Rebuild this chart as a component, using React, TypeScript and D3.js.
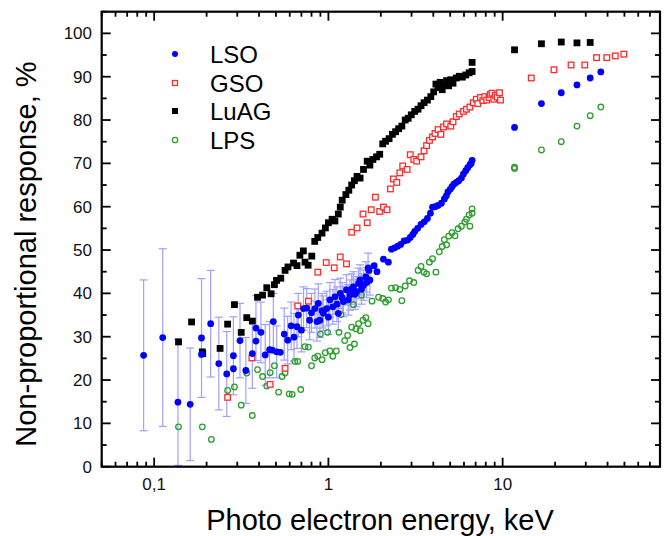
import React from "react";
import * as d3 from "d3";

// LSO (blue filled circles), with error bars at low energies
const lsoEnergy = [
  0.087, 0.112, 0.137, 0.161, 0.187, 0.187, 0.211, 0.235, 0.261, 0.285, 0.285, 0.311, 0.336,
  0.366, 0.384, 0.384, 0.41, 0.434, 0.46, 0.476, 0.483, 0.505, 0.53, 0.558, 0.584, 0.611,
  0.635, 0.66, 0.672, 0.7, 0.72, 0.751, 0.78, 0.8, 0.837, 0.86, 0.875, 0.894, 0.92, 0.935,
  0.978, 1.0, 1.02, 1.06, 1.09, 1.12, 1.14, 1.17, 1.2, 1.22, 1.27, 1.3, 1.33, 1.36, 1.39,
  1.42, 1.45, 1.49, 1.52, 1.55, 1.59, 1.64, 1.66, 1.69, 1.73, 1.71, 1.83, 1.9, 2.07, 2.21,
  2.3, 2.4, 2.5, 2.6, 2.72, 2.85, 2.95, 3.05, 3.13, 3.25, 3.4, 3.55, 3.7, 3.85, 3.96, 4.1,
  4.26, 4.45, 4.63, 4.75, 4.85, 5.0, 5.12, 5.25, 5.42, 5.6, 5.8, 5.95, 6.14, 6.3, 6.49, 6.6,
  6.68, 11.7, 16.7, 21.7, 26.7, 31.8, 36.6,
];
const lsoResponse = [
  25.7, 29.8, 14.9, 14.4, 29.7, 25.9, 33.0, 23.8, 21.4, 25.6, 22.6, 29.1, 22.2,
  26.1, 32.0, 29.0, 31.0, 25.8, 27.0, 26.9, 33.5, 26.5, 26.4, 30.6, 29.2, 32.5,
  29.9, 32.3, 35.0, 31.5, 36.5, 36.6, 33.8, 35.5, 36.5, 33.5, 37.7, 33.8, 36.0, 35.4,
  36.5, 34.5, 38.5, 36.9, 39.2, 37.5, 35.4, 40.0, 39.0, 38.1, 40.8, 38.5, 39.6, 41.0, 41.5,
  39.8, 40.4, 42.3, 43.1, 41.0, 41.9, 43.8, 42.5, 45.8, 43.1, 45.3, 46.4, 45.0, 47.9, 47.2,
  50.2, 50.5, 50.9, 51.3, 52.1, 52.3, 52.9, 53.6, 54.3, 55.0, 55.9, 56.5, 57.3, 58.5, 59.9, 60.0,
  60.3, 60.8, 61.8, 62.5, 63.4, 64.0, 64.6, 65.2, 65.6, 66.0, 66.6, 67.5, 68.3, 69.0, 69.7, 70.0,
  70.7, 78.3, 83.8, 86.3, 88.1, 89.7, 91.1,
];
const lsoError = [
  17.4, 20.5, 14.6, 13, 13.7, 0, 12.3, 10.7, 9.8, 9, 0, 8.6, 7.6,
  8, 7.5, 0, 7, 7, 6.5, 0, 6.5, 6, 0, 6, 5.5, 5.5,
  5.5, 5, 5, 5, 5, 4.5, 4.5, 4.5, 4.5, 4.5, 4.5, 4, 4, 4,
  4, 4, 4, 4, 4, 4, 4, 3.5, 3.5, 3.5, 3.5, 3.5, 3.5, 3.5, 3.5,
  3.5, 3.5, 3.5, 3.5, 3.5, 3.5, 3.5, 3.5, 3.5, 3.5,
];

// GSO (red open squares)
const gsoEnergy = [
  0.264, 0.364, 0.463, 0.564, 0.667, 0.768, 0.869, 0.972, 1.08, 1.17, 1.27, 1.36, 1.46, 1.58,
  1.67, 1.76, 1.86, 1.97, 2.07, 2.17, 2.27, 2.36, 2.47, 2.57, 2.67, 2.83, 2.95, 3.09, 3.21,
  3.4, 3.54, 3.66, 3.8, 3.96, 4.09, 4.26, 4.42, 4.58, 4.77, 5.04, 5.19, 5.42, 5.64, 5.96, 6.2,
  6.49, 6.79, 7.06, 7.2, 7.46, 7.7, 7.89, 8.1, 8.35, 8.5, 8.69, 8.9, 9.08, 9.3, 9.6, 9.72,
  14.6, 19.7, 24.7, 29.6, 34.6, 39.6, 44.3, 49.6,
];
const gsoResponse = [
  16.0, 25.1, 19.0, 22.7, 37.1, 38.2, 44.9, 47.1, 45.9, 48.4, 46.8, 54.1, 55.1, 58.3,
  56.3, 59.3, 62.2, 58.9, 59.9, 59.3, 64.1, 66.4, 65.6, 67.8, 69.4, 68.6, 72.0, 70.9, 70.5,
  71.5, 72.9, 74.1, 75.3, 76.1, 76.9, 77.8, 76.7, 78.4, 79.1, 78.6, 79.6, 80.8, 81.4, 82.0, 82.5,
  83.0, 84.0, 84.8, 83.8, 85.2, 84.5, 85.4, 84.6, 85.2, 85.9, 86.2, 84.8, 85.7, 85.3, 86.3, 84.6,
  89.7, 91.6, 92.7, 92.7, 94.4, 94.4, 94.8, 95.2,
];

// LuAG (black filled squares)
const luagEnergy = [
  0.138, 0.164, 0.189, 0.19, 0.239, 0.264, 0.289, 0.316, 0.34, 0.366, 0.392, 0.419, 0.443,
  0.469, 0.49, 0.504, 0.533, 0.564, 0.586, 0.631, 0.66, 0.686, 0.718, 0.734, 0.765, 0.803,
  0.835, 0.869, 0.919, 0.961, 1.0, 1.05, 1.09, 1.14, 1.17, 1.2, 1.26, 1.31, 1.36, 1.41, 1.46,
  1.52, 1.59, 1.67, 1.73, 1.8, 1.89, 1.97, 2.05, 2.13, 2.23, 2.33, 2.43, 2.53, 2.64, 2.76,
  2.87, 2.99, 3.13, 3.27, 3.4, 3.54, 3.7, 3.87, 4.02, 4.14, 4.26, 4.38, 4.5, 4.63, 4.77, 4.9,
  5.04, 5.19, 5.42, 5.64, 5.87, 6.14, 6.42, 6.68, 6.68, 11.7, 16.7, 21.7, 26.7, 31.8,
];
const luagResponse = [
  28.8, 33.4, 26.5, 26.1, 27.3, 32.9, 37.4, 31.0, 34.4, 33.6, 39.1, 39.6, 41.3,
  39.9, 42.0, 43.0, 43.5, 45.3, 46.1, 47.0, 46.4, 48.8, 49.8, 47.2, 46.5, 48.6,
  52.0, 52.9, 53.9, 55.1, 56.3, 57.1, 56.7, 58.3, 59.9, 61.5, 62.8, 63.8, 65.0, 66.0, 67.0,
  66.6, 68.6, 70.5, 69.6, 70.9, 71.5, 72.1, 74.5, 75.1, 75.7, 76.7, 77.3, 78.0, 78.6, 80.0,
  80.4, 81.2, 82.0, 82.5, 83.3, 84.0, 84.6, 85.4, 86.5, 88.3, 87.5, 88.7, 87.0, 88.1, 89.1, 87.9,
  89.3, 88.5, 89.7, 90.1, 89.9, 90.4, 90.9, 91.2, 93.3, 96.2, 97.6, 98.0, 97.8, 97.9,
];

// LPS (green open circles)
const lpsEnergy = [
  0.138, 0.189, 0.213, 0.264, 0.289, 0.316, 0.34, 0.366, 0.392, 0.419, 0.443, 0.463, 0.49,
  0.518, 0.542, 0.564, 0.596, 0.62, 0.642, 0.667, 0.694, 0.734, 0.768, 0.8, 0.835, 0.869,
  0.9, 0.92, 0.96, 0.99, 1.02, 1.06, 1.11, 1.15, 1.18, 1.24, 1.29, 1.33, 1.36, 1.39, 1.41,
  1.44, 1.49, 1.52, 1.55, 1.58, 1.64, 1.69, 1.78, 1.94, 2.05, 2.13, 2.21, 2.3, 2.43, 2.57,
  2.64, 2.76, 2.92, 3.09, 3.27, 3.4, 3.54, 3.66, 3.8, 3.96, 4.14, 4.33, 4.5, 4.63, 4.77,
  4.9, 5.12, 5.33, 5.55, 5.8, 6.07, 6.2, 6.42, 6.49, 6.68, 6.68, 11.7, 11.7, 16.7, 21.7,
  26.7, 31.8, 36.6,
];
const lpsResponse = [
  9.2, 9.2, 6.3, 17.6, 18.4, 14.2, 21.6, 11.8, 22.4, 20.8, 18.6, 21.7, 23.3,
  17.2, 20.8, 21.6, 16.8, 16.7, 24.3, 24.3, 17.8, 27.7, 27.6, 23.3, 25.1, 25.5,
  30.6, 24.7, 26.3, 31.0, 26.7, 25.5, 26.7, 31.0, 35.1, 29.1, 30.3, 27.5, 32.2, 37.4, 28.3,
  31.8, 33.0, 31.4, 39.6, 33.8, 34.4, 33.0, 38.2, 39.1, 38.8, 38.0, 38.5, 41.2, 41.3, 40.9,
  38.3, 41.7, 42.9, 42.5, 45.3, 46.2, 44.9, 44.5, 47.2, 48.0, 44.9, 49.6, 50.8, 52.4, 51.2,
  53.2, 54.0, 53.3, 54.9, 55.5, 56.5, 57.1, 58.1, 55.5, 59.5, 58.5, 69.1, 68.8, 73.1, 75.0,
  78.6, 81.0, 83.0,
];

const legendNames = ["LSO", "GSO", "LuAG", "LPS"];
const xTickLabels = ["0,1", "1", "10"];
const yTickValues = [0, 10, 20, 30, 40, 50, 60, 70, 80, 90, 100];

const W = 669;
const H = 536;
const L = 101.7, R = 660, T = 11.7, B = 466.7;
const FONT = "'Liberation Sans', Arial, sans-serif";

const BLUE = "#0000ff";
const RED = "#ff2a2a";
const GREEN = "#2e9e2e";
const ERR = "#a0a0ff";

export default function App() {
  const x = d3.scaleLog().domain([0.05, 80]).range([L, R]);
  const y = d3.scaleLinear().domain([0, 105]).range([B, T]);

  const xTicks = x.ticks().filter((v) => v >= 0.05 && v <= 80);
  const isMajorX = (v: number) => Math.abs(Math.log10(v) - Math.round(Math.log10(v))) < 1e-6;
  const yTicks = d3.range(0, 106, 5);

  const lso = lsoEnergy.map((e, i) => ({ e, r: lsoResponse[i], err: lsoError[i] || 0 }));
  const gso = gsoEnergy.map((e, i) => ({ e, r: gsoResponse[i] }));
  const luag = luagEnergy.map((e, i) => ({ e, r: luagResponse[i] }));
  const lps = lpsEnergy.map((e, i) => ({ e, r: lpsResponse[i] }));

  const legendY = [54, 83, 111, 140];
  const legendMarks = [
    <circle cx={175} cy={legendY[0]} r={3} fill={BLUE} />,
    <rect x={172.5} y={legendY[1] - 2.5} width={5} height={5} fill="none" stroke={RED} strokeWidth={1.3} />,
    <rect x={172} y={legendY[2] - 3} width={6} height={6} fill="#000" />,
    <circle cx={175} cy={legendY[3]} r={2.7} fill="none" stroke={GREEN} strokeWidth={1.3} />,
  ];

  return (
    <div style={{ position: "fixed", left: 0, top: 0, background: "#fff" }}>
      <svg width={W} height={H} style={{ display: "block" }}>
        <rect width={W} height={H} fill="#fff" />

        {/* error bars */}
        <g stroke={ERR} strokeWidth={1.2} fill="none">
          {lso.filter((d) => d.err > 0).map((d, i) => {
            const cx = x(d.e);
            const y1 = y(d.r + d.err);
            const y2 = y(Math.max(0, d.r - d.err));
            return (
              <g key={i}>
                <line x1={cx} x2={cx} y1={y1} y2={y2} />
                <line x1={cx - 4} x2={cx + 4} y1={y1} y2={y1} />
                {d.r - d.err > 0 && <line x1={cx - 4} x2={cx + 4} y1={y2} y2={y2} />}
              </g>
            );
          })}
        </g>

        {/* LPS */}
        <g fill="none" stroke={GREEN} strokeWidth={1.3}>
          {lps.map((d, i) => (
            <circle key={i} cx={x(d.e)} cy={y(d.r)} r={2.8} />
          ))}
        </g>
        {/* GSO */}
        <g fill="#fff" stroke={RED} strokeWidth={1.3}>
          {gso.map((d, i) => (
            <rect key={i} x={x(d.e) - 2.8} y={y(d.r) - 2.8} width={5.6} height={5.6} />
          ))}
        </g>
        {/* LuAG */}
        <g fill="#000">
          {luag.map((d, i) => (
            <rect key={i} x={x(d.e) - 3.4} y={y(d.r) - 3.4} width={6.8} height={6.8} />
          ))}
        </g>
        {/* LSO */}
        <g fill={BLUE}>
          {lso.map((d, i) => (
            <circle key={i} cx={x(d.e)} cy={y(d.r)} r={3.4} />
          ))}
        </g>

        {/* frame */}
        <rect x={L} y={T} width={R - L} height={B - T} fill="none" stroke="#000" strokeWidth={2.2} />

        {/* ticks on all four sides, pointing inward */}
        <g stroke="#000" strokeWidth={1.8}>
          {xTicks.map((v, i) => {
            const len = isMajorX(v) ? 9 : 5;
            const px = x(v);
            return (
              <g key={i}>
                <line x1={px} x2={px} y1={B} y2={B - len} />
                <line x1={px} x2={px} y1={T} y2={T + len} />
              </g>
            );
          })}
          {yTicks.map((v, i) => {
            const len = v % 10 === 0 ? 9 : 5;
            const py = y(v);
            return (
              <g key={i}>
                <line x1={L} x2={L + len} y1={py} y2={py} />
                <line x1={R} x2={R - len} y1={py} y2={py} />
              </g>
            );
          })}
        </g>

        {/* tick labels */}
        <g fontFamily={FONT} fontSize={17} fill="#111">
          {[0.1, 1, 10].map((v, i) => (
            <text key={i} x={x(v)} y={490} textAnchor="middle">
              {xTickLabels[i]}
            </text>
          ))}
          {yTickValues.map((v) => (
            <text key={v} x={92} y={y(v) + 6} textAnchor="end">
              {v}
            </text>
          ))}
        </g>

        {/* axis titles */}
        <text x={380} y={530} textAnchor="middle" fontFamily={FONT} fontSize={29} fill="#000">
          Photo electron energy, keV
        </text>
        <text
          transform="translate(36,254) rotate(-90)"
          textAnchor="middle"
          fontFamily={FONT}
          fontSize={29}
          fill="#000"
        >
          Non-proportional response, %
        </text>

        {/* legend */}
        <g>
          {legendMarks.map((m, i) => (
            <g key={i}>{m}</g>
          ))}
          {legendNames.map((n, i) => (
            <text key={n} x={210} y={legendY[i] + 8.5} fontFamily={FONT} fontSize={24} fill="#000">
              {n}
            </text>
          ))}
        </g>
      </svg>
    </div>
  );
}
